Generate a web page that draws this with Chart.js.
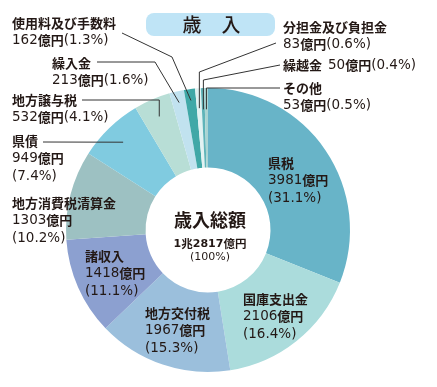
<!DOCTYPE html>
<html>
<head>
<meta charset="utf-8">
<script src="https://cdn.jsdelivr.net/npm/chart.js@4/dist/chart.umd.min.js"></script>
<style>
html,body{margin:0;padding:0;background:#fff;}
canvas{display:block;}
</style>
</head>
<body>
<canvas id="c" width="437" height="387"></canvas>
<script>
// ---- data ----
const categories = ['県税','国庫支出金','地方交付税','諸収入','地方消費税清算金','県債','地方譲与税','繰入金','使用料及び手数料','分担金及び負担金','繰越金','その他'];
const amounts = [3981, 2106, 1967, 1418, 1303, 949, 532, 213, 162, 83, 50, 53];
const percents = ['31.1','16.4','15.3','11.1','10.2','7.4','4.1','1.6','1.3','0.6','0.4','0.5'];
const totalLabel = '1兆2817億円';
const titleText = ['歳','入'];
const centerTitle = '歳入総額';

// ---- styles / layout ----
const colors = ['#68b4c8','#abdcdc','#9bbfdc','#8ca0d0','#9dc1c2','#80cbe0','#b8ded6','#c1e2ef','#40a8a7','#e2f2f2','#60b4b9','#aad4d2'];
const FONT = '"Noto Sans CJK JP","Noto Sans",sans-serif';
const NUMFONT = '"DejaVu Sans","Noto Sans CJK JP",sans-serif';
const TXT = '#231815';
const labelLayout = [
  {x:268, y:163, mode:'stack3'},
  {x:243, y:299, mode:'stack3'},
  {x:145, y:313, mode:'stack3'},
  {x:85,  y:256, mode:'stack3'},
  {x:12,  y:203, mode:'stack3'},
  {x:12,  y:141, mode:'stack3'},
  {x:12,  y:100, mode:'stack2'},
  {x:52,  y:63,  mode:'stack2'},
  {x:12,  y:23,  mode:'stack2'},
  {x:283, y:27,  mode:'stack2'},
  {x:283, y:65,  mode:'one'},
  {x:283, y:88,  mode:'stack2'}
];
const leaders = {
  5:  {pts:[[43,142]], rf:0.86},
  6:  {pts:[[82,100],['end',100]], rf:0.87},
  7:  {pts:[[97,62],[155,62]], rf:0.92},
  8:  {pts:[[122,33],[172,57]], rf:0.92},
  9:  {pts:[[276,43],['end',72]], rf:0.86},
  10: {pts:[[280,65],['end',80]], rf:0.85},
  11: {pts:[[280,88],['end',88]], rf:0.85}
};
const LH = 17.5;

function drawRich(ctx, text, x, y, size, numSize, numBold) {
  const parts = text.split(/(億円|兆)/).filter(s => s.length);
  let cx = x;
  for (const p of parts) {
    const kanji = (p === '億円' || p === '兆');
    if (kanji) ctx.font = 'bold ' + size + 'px ' + FONT;
    else ctx.font = (numBold ? 'bold ' : '') + numSize + 'px ' + NUMFONT;
    ctx.fillText(p, cx, y);
    cx += ctx.measureText(p).width;
  }
  return cx;
}

const overlay = {
  id: 'overlay',
  afterDraw(chart) {
    const ctx = chart.ctx;
    const meta = chart.getDatasetMeta(0);
    ctx.save();
    ctx.textBaseline = 'middle';
    ctx.textAlign = 'left';

    // title box
    ctx.fillStyle = '#bfe4f6';
    ctx.beginPath();
    ctx.roundRect(146, 13, 129, 23, 8);
    ctx.fill();
    ctx.fillStyle = TXT;
    ctx.font = '500 19px ' + FONT;
    ctx.textAlign = 'center';
    ctx.fillText(titleText[0], 192, 24.5);
    ctx.fillText(titleText[1], 231, 24.5);

    // center text
    const c = meta.data[0];
    ctx.font = 'bold 18px ' + FONT;
    ctx.fillText(centerTitle, c.x + 2, c.y - 10);
    ctx.textAlign = 'left';
    ctx.font = 'bold 11px ' + FONT;
    const tw = (function(){
      // measure rich width
      const parts = totalLabel.split(/(億円|兆)/).filter(s => s.length);
      let w = 0;
      for (const p of parts) {
        const kanji = (p === '億円' || p === '兆');
        ctx.font = kanji ? 'bold 11.5px ' + FONT : 'bold 11px ' + NUMFONT;
        w += ctx.measureText(p).width;
      }
      return w;
    })();
    drawRich(ctx, totalLabel, c.x + 2 - tw / 2, c.y + 14, 11.5, 11, true);
    ctx.textAlign = 'center';
    ctx.font = '11px ' + NUMFONT;
    ctx.fillText('(100%)', c.x + 2, c.y + 27);
    ctx.textAlign = 'left';

    // leader lines
    ctx.strokeStyle = '#333';
    ctx.lineWidth = 1;
    for (const k of Object.keys(leaders)) {
      const i = +k;
      const arc = meta.data[i];
      const mid = (arc.startAngle + arc.endAngle) / 2;
      const r = arc.outerRadius * leaders[k].rf;
      const ex = arc.x + Math.cos(mid) * r;
      const ey = arc.y + Math.sin(mid) * r;
      ctx.beginPath();
      leaders[k].pts.forEach((p, j) => {
        const px = p[0] === 'end' ? ex : p[0];
        if (j === 0) ctx.moveTo(px, p[1]); else ctx.lineTo(px, p[1]);
      });
      ctx.lineTo(ex, ey);
      ctx.stroke();
    }

    // labels
    const SZ = 13, NS = 13.5;
    labelLayout.forEach((L, i) => {
      const name = categories[i];
      const amt = amounts[i] + '億円';
      const pct = '(' + percents[i] + '%)';
      ctx.fillStyle = TXT;
      ctx.font = 'bold ' + SZ + 'px ' + FONT;
      ctx.fillText(name, L.x, L.y);
      if (L.mode === 'stack3') {
        drawRich(ctx, amt, L.x, L.y + LH, SZ, NS, false);
        drawRich(ctx, pct, L.x, L.y + 2 * LH, SZ, NS, false);
      } else if (L.mode === 'stack2') {
        drawRich(ctx, amt + pct, L.x, L.y + LH, SZ, NS, false);
      } else {
        const w = ctx.measureText(name).width + 6;
        drawRich(ctx, amt + pct, L.x + w, L.y, SZ, NS, false);
      }
    });
    ctx.restore();
  }
};

new Chart(document.getElementById('c'), {
  type: 'doughnut',
  data: {
    labels: categories,
    datasets: [{
      data: amounts,
      backgroundColor: colors,
      borderWidth: 0
    }]
  },
  options: {
    responsive: false,
    animation: false,
    cutout: '44%',
    rotation: 0,
    layout: { padding: { left: 66, right: 87, top: 88, bottom: 15 } },
    plugins: { legend: { display: false }, tooltip: { enabled: false } }
  },
  plugins: [overlay]
});
</script>
</body>
</html>
